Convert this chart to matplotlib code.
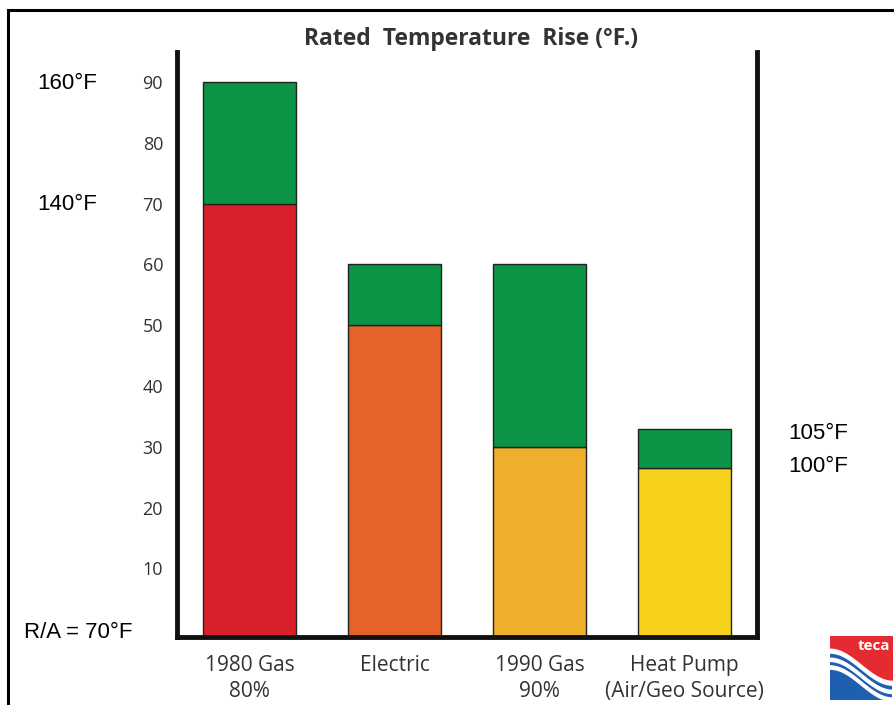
import numpy as np
import matplotlib.pyplot as plt
from matplotlib.patches import Rectangle

plt.rcParams['font.family'] = ['Open Sans', 'DejaVu Sans']

# rated temperature rise per system (deg F)
systems = ["1980 Gas\n80%", "Electric", "1990 Gas\n90%", "Heat Pump\n(Air/Geo Source)"]
low_rise = [70, 50, 30, 26.5]
high_rise = [90, 60, 60, 33]
low_colors = ["#d91f2a", "#e5622a", "#efae2c", "#f6d21c"]
high_color = "#0b9446"

# supply temperatures noted beside the axis
left_notes = [("160°F", 89.8, 0.075), ("140°F", 69.8, 0.075), ("R/A = 70°F", -0.5, 0.087)]
right_notes = [("105°F", 32.2, 0.915), ("100°F", 26.8, 0.915)]

ymin, ymax = -1.3, 95

fig = plt.figure(figsize=(8.94, 7.05), dpi=100)
ax = fig.add_axes([0.198, 0.0965, 0.649, 0.83])

x = np.arange(len(systems))
ax.bar(x, np.array(low_rise) - ymin, bottom=ymin, width=0.645,
       color=low_colors, edgecolor="#222222", linewidth=1)
ax.bar(x, np.array(high_rise) - np.array(low_rise), bottom=low_rise, width=0.645,
       color=high_color, edgecolor="#222222", linewidth=1)

ax.set_xlim(-0.5, 3.5)
ax.set_ylim(ymin, ymax)
ax.set_yticks(range(10, 100, 10))
ax.tick_params(axis='y', length=0, pad=10, labelsize=13, labelcolor="#333333")
ax.set_xticks(x)
ax.set_xticklabels(systems, fontsize=15, color="#333333", linespacing=1.3)
ax.tick_params(axis='x', length=0, pad=13)

for side in ["left", "right", "bottom"]:
    ax.spines[side].set_linewidth(3.5)
    ax.spines[side].set_color("#111111")
ax.spines["top"].set_visible(False)

fig.text(0.527, 0.945, "Rated  Temperature  Rise (°F.)", ha="center", va="center",
         fontsize=16.5, fontweight="bold", color="#333333")

for label, val, xf in left_notes + right_notes:
    ax.annotate(label, xy=(0, val), xycoords=("figure fraction", "data"),
                xytext=(xf, 0), textcoords=("figure fraction", "offset points"),
                ha="center", va="center", fontsize=16, family="Liberation Sans")

# outer frame
fig.add_artist(plt.Line2D([0.009, 0.009], [0, 0.986], color="black", lw=2.2,
                          transform=fig.transFigure))
fig.add_artist(plt.Line2D([0.009, 1], [0.986, 0.986], color="black", lw=2.2,
                          transform=fig.transFigure))

# teca logo
lg = fig.add_axes([0.928, 0.007, 0.07, 0.091])
lg.set_xlim(0, 1)
lg.set_ylim(0, 1)
lg.axis("off")
t = np.linspace(0, 1, 100)
lg.add_patch(Rectangle((0, 0), 1, 1, color="#1f5fb0"))
wave = 0.55 + 0.25 * np.cos(np.pi * t)
lg.fill_between(t, wave, 1, color="#e42b32")
for off, w in [(0.0, 0.06), (-0.14, 0.05), (-0.26, 0.05)]:
    lg.fill_between(t, wave + off - w, wave + off, color="white")
lg.text(0.97, 0.84, "teca", ha="right", va="center", color="white",
        fontsize=11, fontweight="bold")

fig.savefig("out.png", dpi=100)
